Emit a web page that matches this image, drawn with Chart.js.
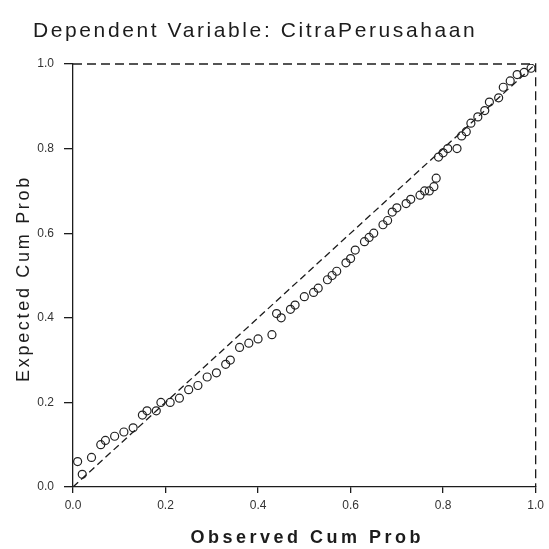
<!DOCTYPE html>
<html>
<head>
<meta charset="utf-8">
<script src="https://cdn.jsdelivr.net/npm/chart.js@4"></script>
<style>
  body { margin: 0; background: #fff; }
</style>
</head>
<body>
<canvas id="pp-plot" width="549" height="549"></canvas>
<script>
// values
const observedCum = [0.02, 0.01, 0.04, 0.06, 0.07, 0.09, 0.11, 0.13, 0.15, 0.16, 0.18, 0.19, 0.21, 0.23, 0.25, 0.27, 0.29, 0.31, 0.33, 0.34, 0.36, 0.38, 0.40, 0.43, 0.44, 0.45, 0.47, 0.48, 0.50, 0.52, 0.53, 0.55, 0.56, 0.57, 0.59, 0.60, 0.61, 0.63, 0.64, 0.65, 0.67, 0.68, 0.69, 0.70, 0.72, 0.73, 0.75, 0.76, 0.77, 0.78, 0.785, 0.79, 0.80, 0.81, 0.83, 0.84, 0.85, 0.86, 0.875, 0.89, 0.90, 0.92, 0.93, 0.945, 0.96, 0.975, 0.99];
const expectedCum = [0.03, 0.06, 0.07, 0.10, 0.11, 0.12, 0.13, 0.14, 0.17, 0.18, 0.18, 0.20, 0.20, 0.21, 0.23, 0.24, 0.26, 0.27, 0.29, 0.30, 0.33, 0.34, 0.35, 0.36, 0.41, 0.40, 0.42, 0.43, 0.45, 0.46, 0.47, 0.49, 0.50, 0.51, 0.53, 0.54, 0.56, 0.58, 0.59, 0.60, 0.62, 0.63, 0.65, 0.66, 0.67, 0.68, 0.69, 0.70, 0.70, 0.71, 0.73, 0.78, 0.79, 0.80, 0.80, 0.83, 0.84, 0.86, 0.875, 0.89, 0.91, 0.92, 0.945, 0.96, 0.975, 0.98, 0.99];
const diagonal = [0, 1];
const tickValues = [0, 0.2, 0.4, 0.6, 0.8, 1.0];

const chartTitle = 'Dependent Variable: CitraPerusahaan';
const xTitle = 'Observed Cum Prob';
const yTitle = 'Expected Cum Prob';

const ink = '#1c1c1c';

const points = observedCum.map((v, i) => ({ x: v, y: expectedCum[i] }));
const line = diagonal.map(v => ({ x: v, y: v }));

// title, axis titles and the dashed top/right frame
const frameAndText = {
    id: 'frameAndText',
    afterDraw(chart) {
        const ctx = chart.ctx;
        const a = chart.chartArea;
        ctx.save();
        ctx.strokeStyle = ink;
        ctx.lineWidth = 1.3;
        ctx.setLineDash([9, 5]);
        ctx.beginPath();
        ctx.moveTo(a.left, a.top);
        ctx.lineTo(a.right, a.top);
        ctx.lineTo(a.right, a.bottom);
        ctx.stroke();
        ctx.setLineDash([]);

        ctx.fillStyle = ink;
        ctx.textBaseline = 'alphabetic';
        ctx.letterSpacing = '2.6px';
        ctx.font = '21px "Liberation Sans", Arial, sans-serif';
        ctx.textAlign = 'left';
        ctx.fillText(chartTitle, 33, 37);

        ctx.letterSpacing = '3.5px';
        ctx.font = 'bold 18px "Liberation Sans", Arial, sans-serif';
        ctx.textAlign = 'center';
        ctx.fillText(xTitle, (a.left + a.right) / 2 + 3, 543);

        ctx.letterSpacing = '2.7px';
        ctx.font = '18px "Liberation Sans", Arial, sans-serif';
        ctx.translate(29, (a.top + a.bottom) / 2 + 3);
        ctx.rotate(-Math.PI / 2);
        ctx.fillText(yTitle, 0, 0);
        ctx.restore();
    }
};

const axisCommon = {
    type: 'linear',
    min: 0,
    max: 1,
    afterBuildTicks: scale => { scale.ticks = tickValues.map(v => ({ value: v })); },
    ticks: {
        color: '#333',
        font: { family: '"Liberation Sans", Arial, sans-serif', size: 12 },
        callback: v => v.toFixed(1)
    },
    grid: { drawOnChartArea: false, drawTicks: true, color: ink, lineWidth: 1.3 },
    border: { display: true, color: ink, width: 1.3, dash: [9, 5] }
};

new Chart(document.getElementById('pp-plot'), {
    type: 'scatter',
    data: {
        datasets: [{
            data: points,
            pointStyle: 'circle',
            pointRadius: 4,
            pointBorderWidth: 1.2,
            pointBorderColor: '#222',
            pointBackgroundColor: 'rgba(255,255,255,0)'
        }, {
            type: 'line',
            data: line,
            borderColor: ink,
            borderWidth: 1.3,
            borderDash: [7, 4],
            pointRadius: 0,
            fill: false
        }]
    },
    options: {
        responsive: false,
        animation: false,
        layout: { padding: { top: 64, right: 11, left: 0, bottom: 0 } },
        plugins: {
            legend: { display: false },
            tooltip: { enabled: false }
        },
        scales: {
            x: {
                ...axisCommon,
                grid: { ...axisCommon.grid, tickLength: 6 },
                ticks: { ...axisCommon.ticks, padding: 5, maxRotation: 0 },
                afterFit: scale => { scale.height = 62; }
            },
            y: {
                ...axisCommon,
                grid: { ...axisCommon.grid, tickLength: 9 },
                ticks: { ...axisCommon.ticks, padding: 10 },
                afterFit: scale => { scale.width = 73; }
            }
        }
    },
    plugins: [frameAndText]
});
</script>
</body>
</html>
